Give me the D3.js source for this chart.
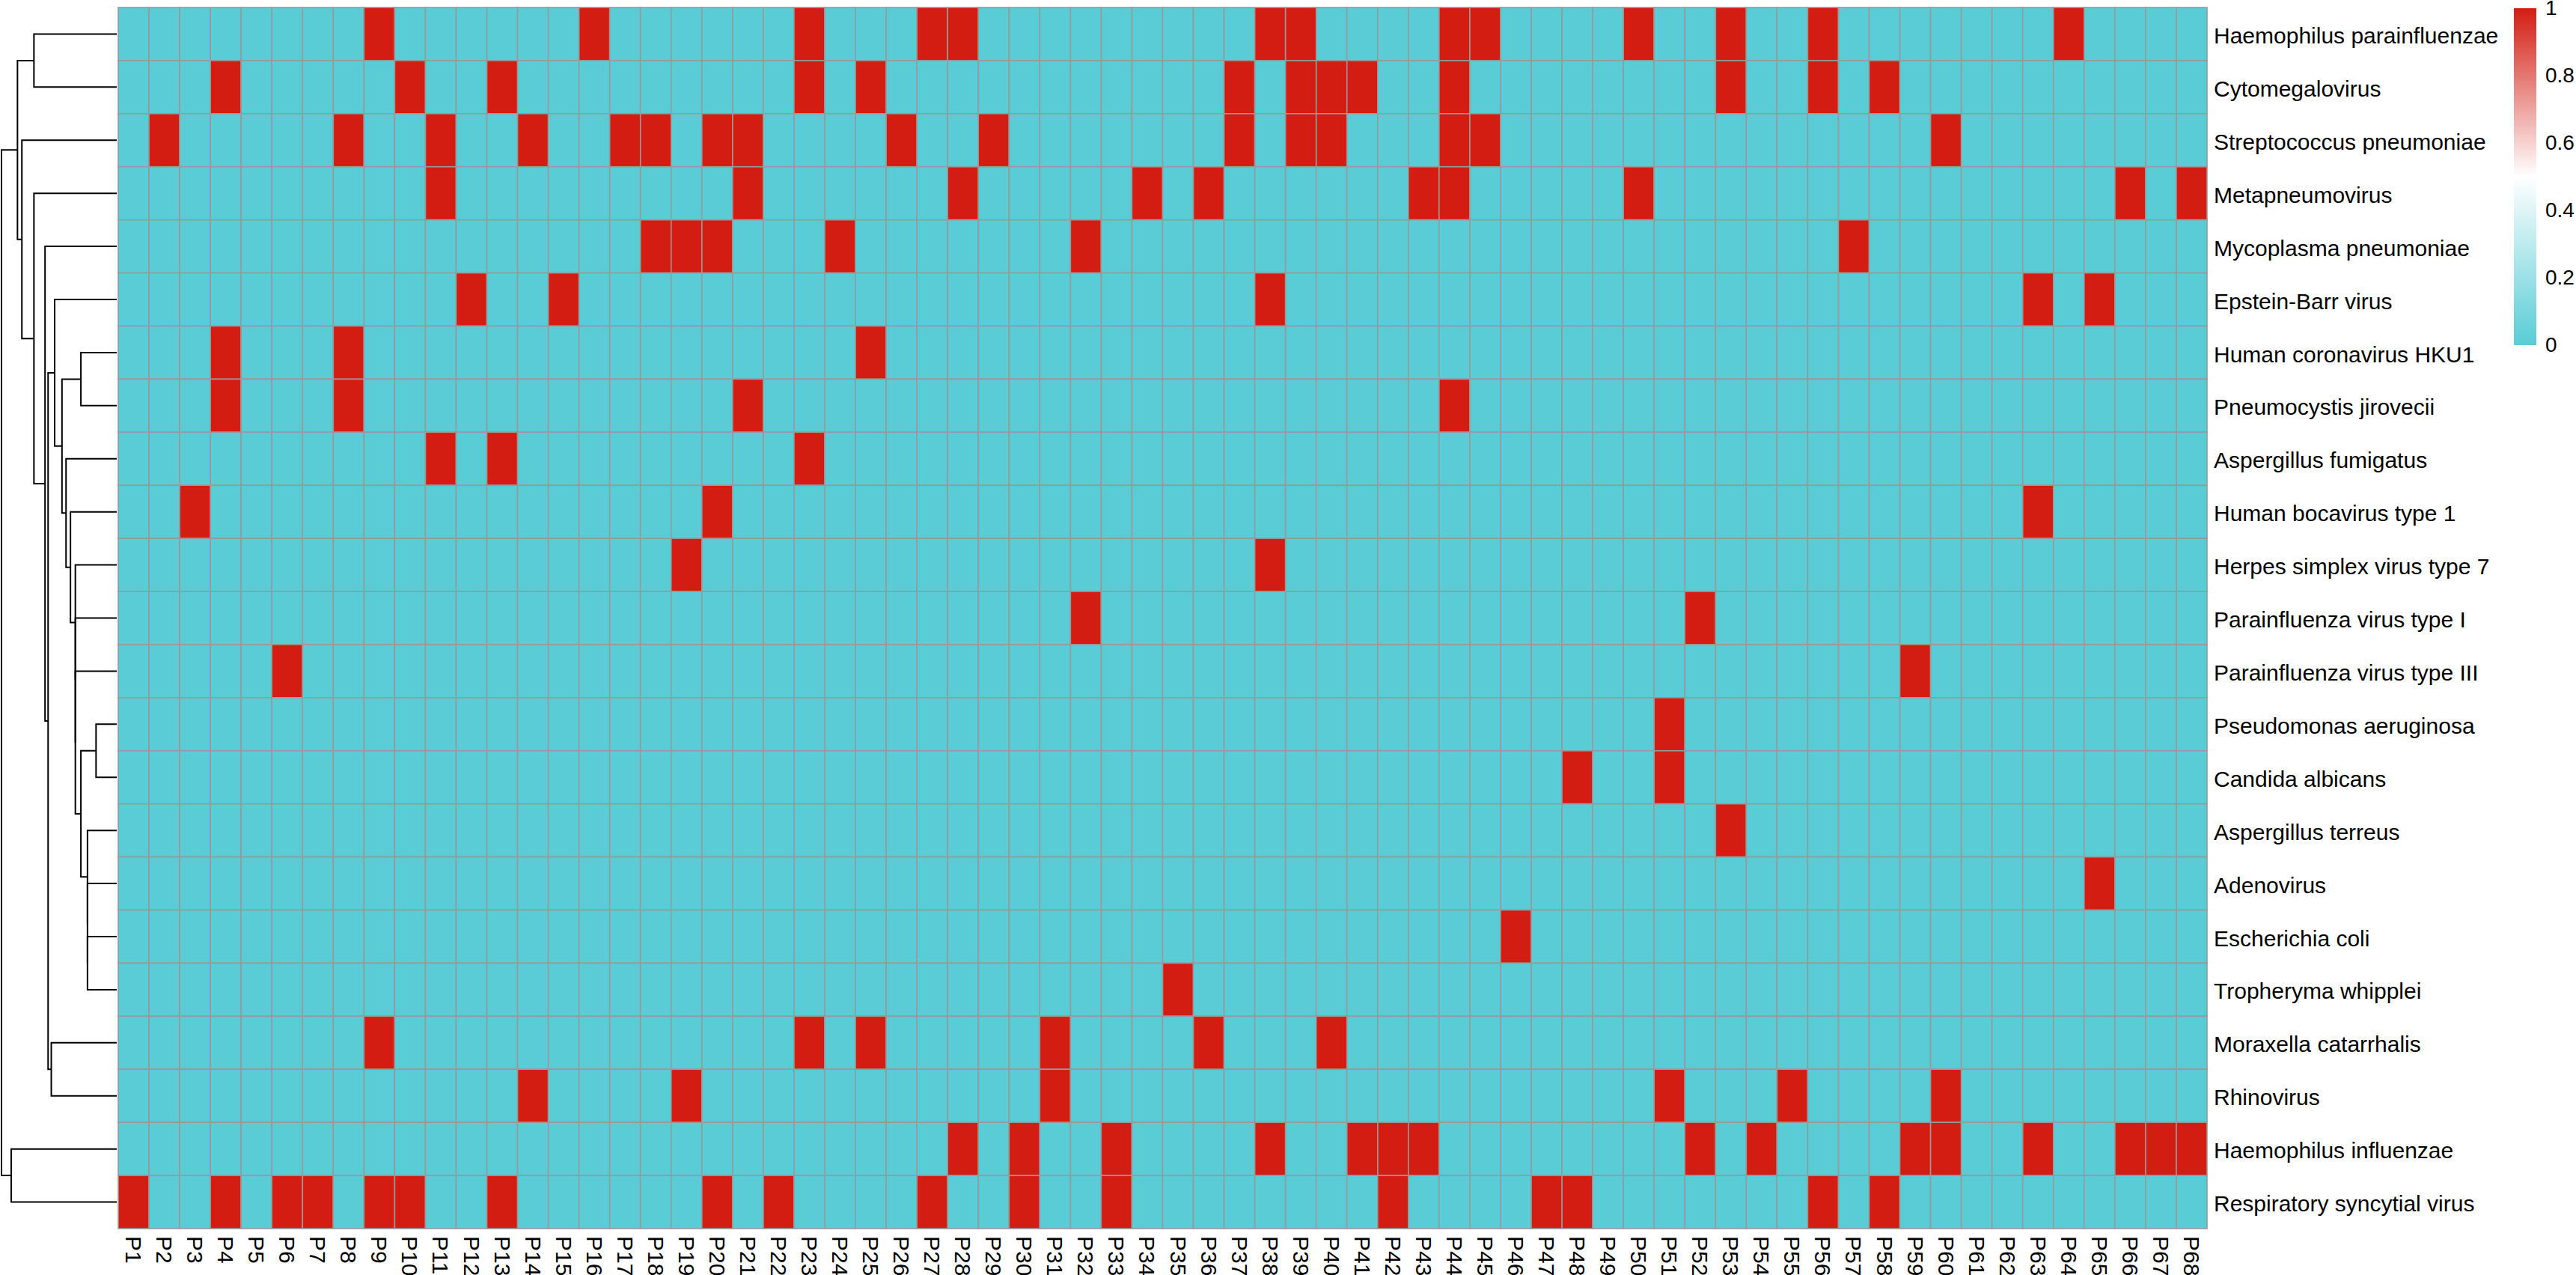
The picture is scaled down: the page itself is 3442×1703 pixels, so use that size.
<!DOCTYPE html>
<html>
<head>
<meta charset="utf-8">
<script src="https://cdn.jsdelivr.net/npm/d3@7"></script>
<style>
  body { margin: 0; background: #fff; }
  text { font-family: "Liberation Sans", Arial, Helvetica, sans-serif; fill: #000; }
</style>
</head>
<body>
<div id="chart"></div>
<script>
// canvas size
const svgWidth = 3442;
const svgHeight = 1703;

// pathogens, top to bottom as in the clustered heatmap
const pathogens = [
    'Haemophilus parainfluenzae', 'Cytomegalovirus', 'Streptococcus pneumoniae',
    'Metapneumovirus', 'Mycoplasma pneumoniae', 'Epstein-Barr virus',
    'Human coronavirus HKU1', 'Pneumocystis jirovecii', 'Aspergillus fumigatus',
    'Human bocavirus type 1', 'Herpes simplex virus type 7', 'Parainfluenza virus type I',
    'Parainfluenza virus type III', 'Pseudomonas aeruginosa', 'Candida albicans',
    'Aspergillus terreus', 'Adenovirus', 'Escherichia coli', 'Tropheryma whipplei',
    'Moraxella catarrhalis', 'Rhinovirus', 'Haemophilus influenzae',
    'Respiratory syncytial virus'
];

// patients P1..P68
const patients = d3.range(1, 69).map(i => 'P' + i);

// patient numbers where each pathogen was detected (value 1), same order as pathogens
const detected = [
    [9, 16, 23, 27, 28, 38, 39, 44, 45, 50, 53, 56, 64],
    [4, 10, 13, 23, 25, 37, 39, 40, 41, 44, 53, 56, 58],
    [2, 8, 11, 14, 17, 18, 20, 21, 26, 29, 37, 39, 40, 44, 45, 60],
    [11, 21, 28, 34, 36, 43, 44, 50, 66, 68],
    [18, 19, 20, 24, 32, 57],
    [12, 15, 38, 63, 65],
    [4, 8, 25],
    [4, 8, 21, 44],
    [11, 13, 23],
    [3, 20, 63],
    [19, 38],
    [32, 52],
    [6, 59],
    [51],
    [48, 51],
    [53],
    [65],
    [46],
    [35],
    [9, 23, 25, 31, 36, 40],
    [14, 19, 31, 51, 55, 60],
    [28, 30, 33, 38, 41, 42, 43, 52, 54, 59, 60, 63, 66, 67, 68],
    [1, 4, 6, 7, 9, 10, 13, 20, 22, 27, 30, 33, 42, 47, 48, 56, 58]
];

// row dendrogram topology (row indices), heights come from complete linkage
const rowTree = [[[0, 1], [2, [3, [4, [[5, [[6, 7], [8, [9, [10, [11, [12, [[13, 14], [15, [16, [17, 18]]]]]]]]]]], [19, 20]]]]]], [21, 22]];

// colour bar ticks
const legendTicks = [0, 0.2, 0.4, 0.6, 0.8, 1];

// build the 0/1 matrix
var matrix = [];
pathogens.forEach(function(name, r) {
    patients.forEach(function(p, c) {
        matrix.push({ row: r, col: p, value: detected[r].includes(c + 1) ? 1 : 0 });
    });
});

var svg = d3.select('#chart')
    .append('svg')
    .attr('width', svgWidth)
    .attr('height', svgHeight);

// scales
var xScale = d3.scaleBand().domain(patients).range([158, 2949]);
var yScale = d3.scaleBand().domain(d3.range(pathogens.length)).range([10, 1641]);
var color = d3.scaleLinear()
    .domain([0, 0.5, 1])
    .range(['#59CCD6', '#FFFFFF', '#D31D13']);

// heatmap cells
svg.append('g')
    .selectAll('rect')
    .data(matrix)
    .enter()
    .append('rect')
    .attr('x', d => xScale(d.col))
    .attr('y', d => yScale(d.row))
    .attr('width', xScale.bandwidth())
    .attr('height', yScale.bandwidth())
    .attr('fill', d => color(d.value))
    .attr('stroke', '#999999')
    .attr('stroke-width', 1.6);

// row labels
svg.append('g')
    .selectAll('text')
    .data(pathogens)
    .enter()
    .append('text')
    .attr('x', 2958)
    .attr('y', (d, i) => yScale(i) + yScale.bandwidth() / 2)
    .attr('dy', '0.42em')
    .style('font-size', '30px')
    .text(d => d);

// column labels, rotated to read downwards
svg.append('g')
    .selectAll('text')
    .data(patients)
    .enter()
    .append('text')
    .attr('transform', d => `translate(${xScale(d) + xScale.bandwidth() / 2}, 1651) rotate(90)`)
    .attr('dy', '0.35em')
    .style('font-size', '30px')
    .text(d => d);

// dendrogram: euclidean distance between rows, complete linkage heights
function dist(a, b) {
    var sa = new Set(detected[a]), sb = new Set(detected[b]);
    var n = 0;
    sa.forEach(v => { if (!sb.has(v)) n++; });
    sb.forEach(v => { if (!sa.has(v)) n++; });
    return Math.sqrt(n);
}

var tree = d3.hierarchy(rowTree, d => Array.isArray(d) ? d : null);
tree.eachAfter(function(node) {
    if (node.children) {
        var a = node.children[0], b = node.children[1];
        node.leafRows = a.leafRows.concat(b.leafRows);
        node.ypos = (a.ypos + b.ypos) / 2;
        node.h = d3.max(a.leafRows, i => d3.max(b.leafRows, j => dist(i, j)));
    } else {
        node.leafRows = [node.data];
        node.ypos = yScale(node.data) + yScale.bandwidth() / 2;
        node.h = 0;
    }
});

var hScale = d3.scaleLinear().domain([0, tree.h]).range([156, 2]);

svg.append('g')
    .selectAll('path')
    .data(tree.descendants().filter(n => n.children))
    .enter()
    .append('path')
    .attr('d', function(n) {
        var a = n.children[0], b = n.children[1];
        return `M${hScale(a.h)},${a.ypos}H${hScale(n.h)}V${b.ypos}H${hScale(b.h)}`;
    })
    .attr('fill', 'none')
    .attr('stroke', '#000')
    .attr('stroke-width', 2);

// colour legend
var legendScale = d3.scaleLinear().domain([0, 1]).range([461, 11]);

var grad = svg.append('defs')
    .append('linearGradient')
    .attr('id', 'legendGrad')
    .attr('x1', 0).attr('y1', 1)
    .attr('x2', 0).attr('y2', 0);

grad.selectAll('stop')
    .data([0, 0.5, 1])
    .enter()
    .append('stop')
    .attr('offset', d => d)
    .attr('stop-color', d => color(d));

svg.append('rect')
    .attr('x', 3359)
    .attr('y', legendScale(1))
    .attr('width', 30)
    .attr('height', legendScale(0) - legendScale(1))
    .attr('fill', 'url(#legendGrad)');

var legendAxis = d3.axisRight(legendScale)
    .tickValues(legendTicks)
    .tickSize(0)
    .tickPadding(12)
    .tickFormat(d => String(d));

var legendG = svg.append('g')
    .attr('transform', 'translate(3389, 0)')
    .call(legendAxis);

legendG.select('.domain').remove();
legendG.selectAll('text')
    .attr('font-family', null)
    .style('font-size', '28px');
</script>
</body>
</html>
